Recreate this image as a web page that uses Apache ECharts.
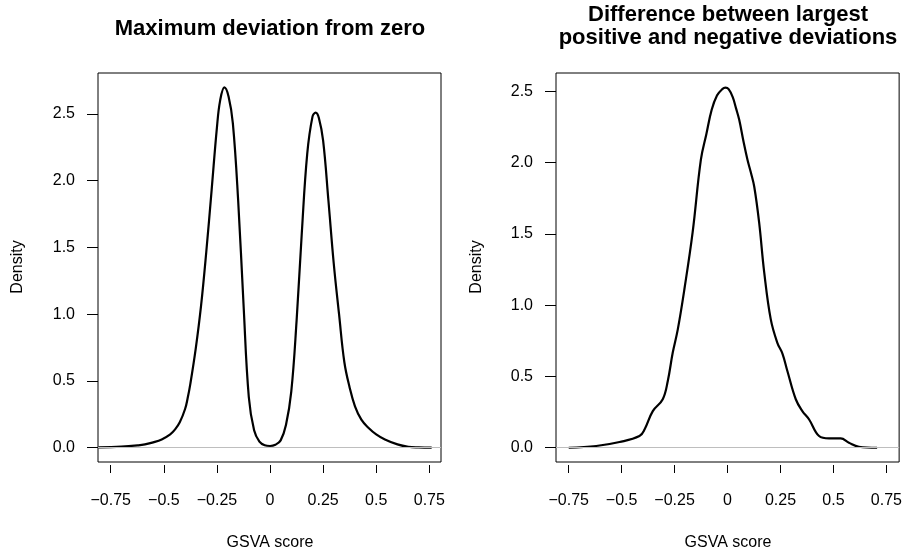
<!DOCTYPE html>
<html>
<head>
<meta charset="utf-8">
<script src="https://cdn.jsdelivr.net/npm/echarts@6/dist/echarts.min.js"></script>
<style>
html,body{margin:0;padding:0;background:#fff;}
#chart{width:905px;height:559px;}
</style>
</head>
<body>
<div id="chart"></div>
<script>
// ---- data ----
var leftTitle = 'Maximum deviation from zero';
var rightTitle = 'Difference between largest\npositive and negative deviations';
var xAxisTitle = 'GSVA score';
var yAxisTitle = 'Density';

var xTickValues = [-0.75, -0.5, -0.25, 0, 0.25, 0.5, 0.75];
var xTickLabels = ['\u22120.75', '\u22120.5', '\u22120.25', '0', '0.25', '0.5', '0.75'];
var leftYTicks = [0, 0.5, 1, 1.5, 2, 2.5];
var rightYTicks = [0, 0.5, 1, 1.5, 2, 2.5];

var leftX = [-0.808, -0.70, -0.62, -0.589, -0.55, -0.51, -0.47, -0.447, -0.425, -0.40, -0.388, -0.375, -0.35, -0.325, -0.30,
  -0.275, -0.25, -0.235, -0.215, -0.195, -0.175, -0.15, -0.125, -0.10, -0.075, -0.05, -0.025, 0, 0.025, 0.05,
  0.075, 0.10, 0.125, 0.15, 0.175, 0.20, 0.215, 0.23, 0.25, 0.275, 0.30, 0.325, 0.35, 0.375, 0.40, 0.43,
  0.463, 0.50, 0.541, 0.60, 0.651, 0.70, 0.761];
var leftDensity = [0.003, 0.008, 0.018, 0.025, 0.04, 0.062, 0.10, 0.137, 0.19, 0.29, 0.37, 0.48, 0.74, 1.06, 1.47,
  1.93, 2.40, 2.60, 2.70, 2.63, 2.43, 1.85, 1.08, 0.38, 0.13, 0.045, 0.018, 0.013, 0.022, 0.055,
  0.17, 0.42, 0.95, 1.62, 2.20, 2.48, 2.51, 2.47, 2.30, 1.85, 1.38, 1.00, 0.64, 0.45, 0.31, 0.21,
  0.15, 0.10, 0.062, 0.025, 0.007, 0.002, 0.0];

var rightX = [-0.75, -0.62, -0.51, -0.416, -0.392, -0.353, -0.306, -0.282, -0.259, -0.235, -0.204, -0.165,
  -0.126, -0.1, -0.075, -0.05, -0.025, -0.01, 0.005, 0.024, 0.04, 0.055, 0.075, 0.094, 0.11, 0.126, 0.149, 0.173, 0.204, 0.235, 0.259, 0.282,
  0.322, 0.353, 0.385, 0.432, 0.479, 0.534, 0.573, 0.62, 0.706];
var rightDensity = [0.0, 0.012, 0.04, 0.082, 0.128, 0.257, 0.34, 0.47, 0.666, 0.83, 1.11, 1.51,
  2.02, 2.20, 2.37, 2.47, 2.515, 2.525, 2.515, 2.46, 2.38, 2.30, 2.15, 2.02, 1.93, 1.83, 1.58, 1.23, 0.90, 0.736, 0.66, 0.54,
  0.34, 0.257, 0.198, 0.082, 0.065, 0.065, 0.035, 0.007, 0.0];

function pairs(xs, ys) { return xs.map(function (x, i) { return [x, ys[i]]; }); }

var FONT = '"Liberation Sans", Arial, Helvetica, sans-serif';

function xAxisCfg(gi, min, max) {
  return {
    type: 'value', gridIndex: gi, min: min, max: max, offset: 3, position: 'bottom',
    axisLine: { show: false, onZero: false },
    splitLine: { show: false },
    axisTick: { show: true, customValues: xTickValues, length: 8, lineStyle: { color: '#000', width: 1 } },
    axisLabel: {
      show: true, customValues: xTickValues, margin: 28, fontSize: 16, fontFamily: FONT, color: '#000',
      formatter: function (v) {
        for (var i = 0; i < xTickValues.length; i++) if (Math.abs(xTickValues[i] - v) < 1e-9) return xTickLabels[i];
        return '';
      }
    }
  };
}
function yAxisCfg(gi, min, max, ticks) {
  return {
    type: 'value', gridIndex: gi, min: min, max: max, position: 'left',
    axisLine: { show: false, onZero: false },
    splitLine: { show: false },
    axisTick: { show: true, customValues: ticks, length: 11, lineStyle: { color: '#000', width: 1 } },
    axisLabel: {
      show: true, customValues: ticks, margin: 23, fontSize: 16, fontFamily: FONT, color: '#000',
      formatter: function (v) { return v.toFixed(1); }
    }
  };
}
function seriesCfg(gi, xs, ys) {
  return {
    type: 'line', xAxisIndex: gi, yAxisIndex: gi, data: pairs(xs, ys),
    smooth: 0.4, showSymbol: false, symbol: 'none', silent: true,
    lineStyle: { color: '#000', width: 2.2 },
    markLine: {
      silent: true, symbol: 'none', label: { show: false },
      lineStyle: { color: '#bebebe', width: 1, type: 'solid' },
      data: [{ yAxis: 0 }]
    },
    z: 3
  };
}

var chart = echarts.init(document.getElementById('chart'), null, { renderer: 'canvas' });
chart.setOption({
  animation: false,
  backgroundColor: '#fff',
  grid: [
    { left: 98, top: 73, width: 343, height: 389, show: true, borderColor: '#000', borderWidth: 1, backgroundColor: 'transparent' },
    { left: 556, top: 73, width: 344, height: 389, show: true, borderColor: '#000', borderWidth: 1, backgroundColor: 'transparent' }
  ],
  xAxis: [xAxisCfg(0, -0.81, 0.805), xAxisCfg(1, -0.81, 0.81)],
  yAxis: [yAxisCfg(0, -0.107, 2.807, leftYTicks), yAxisCfg(1, -0.1, 2.628, rightYTicks)],
  series: [seriesCfg(0, leftX, leftDensity), seriesCfg(1, rightX, rightDensity)],
  graphic: [
    { type: 'text', x: 270, y: 29, style: { text: leftTitle, align: 'center', verticalAlign: 'middle', font: 'bold 22px ' + FONT, fill: '#000' } },
    { type: 'text', x: 728, y: 26, style: { text: rightTitle, align: 'center', verticalAlign: 'middle', lineHeight: 23, font: 'bold 22px ' + FONT, fill: '#000' } },
    { type: 'text', x: 270, y: 543, style: { text: xAxisTitle, align: 'center', verticalAlign: 'middle', font: '16px ' + FONT, fill: '#000' } },
    { type: 'text', x: 728, y: 543, style: { text: xAxisTitle, align: 'center', verticalAlign: 'middle', font: '16px ' + FONT, fill: '#000' } },
    { type: 'text', x: 18, y: 267, rotation: Math.PI / 2, style: { text: yAxisTitle, align: 'center', verticalAlign: 'middle', font: '16px ' + FONT, fill: '#000' } },
    { type: 'text', x: 477, y: 267, rotation: Math.PI / 2, style: { text: yAxisTitle, align: 'center', verticalAlign: 'middle', font: '16px ' + FONT, fill: '#000' } }
  ]
});
</script>
</body>
</html>
